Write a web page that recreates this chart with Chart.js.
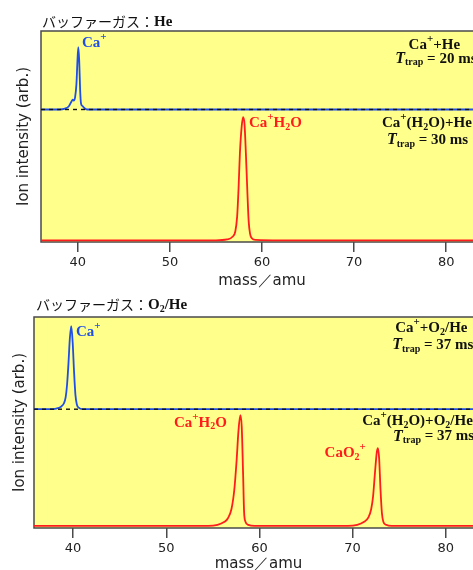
<!DOCTYPE html>
<html>
<head>
<meta charset="utf-8">
<script src="https://cdn.jsdelivr.net/npm/chart.js@4.4.1/dist/chart.umd.min.js"></script>
<style>
  html, body { margin: 0; padding: 0; background: #fff; overflow: hidden; width: 473px; height: 570px; }
  #wrap { position: relative; width: 473px; height: 570px; overflow: hidden; }
  canvas { position: absolute; left: 0; }
  #c1 { top: 0; }
  #c2 { top: 290px; }
</style>
</head>
<body>
<div id="wrap">
  <canvas id="c1" width="490" height="290"></canvas>
  <canvas id="c2" width="490" height="283"></canvas>
</div>
<script>
// x axis ticks (mass / amu)
const massTicks = [40, 50, 60, 70, 80];

// buffer gas: He  -- Ca+ trace
const heCaMass = [36, 38.0, 38.6, 39.0, 39.3, 39.45, 39.55, 39.7, 39.85, 39.95, 40.05, 40.15, 40.25, 40.35, 40.5, 40.7, 41.0, 84];
const heCaInt  = [62.8, 62.8, 63.2, 64.2, 66.5, 67.5, 67.0, 68.5, 75, 85, 92.4, 86, 72, 65.5, 64.5, 63.5, 62.8, 62.8];
// buffer gas: He  -- Ca+(H2O) trace
const heWaterMass = [36, 55, 56.2, 56.8, 57.1, 57.3, 57.45, 57.6, 57.8, 57.95, 58.1, 58.25, 58.4, 58.55, 58.7, 58.9, 59.3, 62, 84];
const heWaterInt  = [0.8, 0.8, 1.2, 2.5, 5, 12, 25, 42, 55, 59.2, 56, 42, 25, 10, 4, 1.8, 1.0, 0.8, 0.8];
const heZero = 62.8;

// buffer gas: O2/He  -- Ca+ trace
const o2CaMass = [35.8, 37.5, 38.2, 38.7, 39.0, 39.2, 39.35, 39.5, 39.65, 39.8, 39.95, 40.1, 40.25, 40.4, 40.6, 41.0, 84];
const o2CaInt  = [56.3, 56.3, 56.6, 57.5, 59, 62, 68, 78, 90, 95.7, 88, 74, 63, 58.5, 57, 56.3, 56.3];
// buffer gas: O2/He  -- Ca+(H2O) trace (Ca+H2O and CaO2+ peaks)
const o2WaterMass = [35.8, 54.5, 55.5, 56.2, 56.6, 57.0, 57.3, 57.55, 57.75, 57.95, 58.1, 58.25, 58.35, 58.5, 58.8, 59.5,
                     69.5, 70.5, 71.2, 71.7, 72.0, 72.2, 72.4, 72.6, 72.72, 72.85, 73.0, 73.15, 73.3, 73.6, 74.2, 84];
const o2WaterInt  = [1, 1, 1.5, 2.8, 4.5, 9, 18, 32, 46, 53.5, 48, 25, 8, 3, 1.5, 1,
                     1, 1.5, 2.8, 5, 9, 15, 26, 36, 37.9, 33, 18, 7, 3, 1.5, 1, 1];
const o2Zero = 56.3;

const BLUE = '#1f4fe6';
const RED = '#ff1c1c';
const AXIS = '#4a4a4a';

function pts(xs, ys) {
  return xs.map((x, i) => ({ x: x, y: ys[i] }));
}

// text with superscripts / subscripts
function drawRich(ctx, x, y, parts) {
  let cx = x;
  for (const [t, k] of parts) {
    let dy = 0;
    if (k === 'sup') { ctx.font = 'bold 11px "Liberation Serif"'; dy = -6; }
    else if (k === 'sub') { ctx.font = 'bold 10px "Liberation Serif"'; dy = 4; }
    else if (k === 'it') { ctx.font = 'italic bold 16px "Liberation Serif"'; }
    else if (k === 'jp') { ctx.font = '14px "Noto Sans CJK JP"'; }
    else { ctx.font = 'bold 15px "Liberation Serif"'; }
    ctx.fillText(t, cx, y + dy);
    cx += ctx.measureText(t).width;
  }
}

const decor = {
  id: 'decor',
  beforeDraw(chart) {
    const { ctx, chartArea: a } = chart;
    ctx.save();
    ctx.fillStyle = '#ffff8c';
    ctx.fillRect(a.left, a.top, a.right - a.left, a.bottom - a.top);
    ctx.restore();
  },
  beforeDatasetsDraw(chart) {
    const { ctx, chartArea: a } = chart;
    ctx.save();
    ctx.strokeStyle = AXIS;
    ctx.lineWidth = 1.5;
    ctx.strokeRect(a.left, a.top, a.right - a.left, a.bottom - a.top);
    ctx.restore();
  },
  afterDraw(chart, args, opts) {
    const { ctx, scales } = chart;
    ctx.save();
    ctx.textBaseline = 'middle';
    ctx.textAlign = 'left';
    ctx.fillStyle = '#111';
    drawRich(ctx, opts.title.x, opts.title.y, opts.title.parts);
    for (const l of opts.labels) {
      ctx.fillStyle = l.color;
      drawRich(ctx, scales.x.getPixelForValue(l.x), scales.y.getPixelForValue(l.y), l.parts);
    }
    ctx.restore();
  }
};

function makeChart(id, cfg) {
  return new Chart(document.getElementById(id), {
    type: 'line',
    data: {
      datasets: [
        { data: pts([cfg.xmin, 84], [cfg.zero, cfg.zero]), borderColor: '#111', borderWidth: 1.4, borderDash: [4, 4], pointRadius: 0 },
        { data: pts(cfg.blueX, cfg.blueY), borderColor: BLUE, borderWidth: 1.8, pointRadius: 0, cubicInterpolationMode: 'monotone' },
        { data: pts(cfg.redX, cfg.redY), borderColor: RED, borderWidth: 1.8, pointRadius: 0, cubicInterpolationMode: 'monotone' }
      ]
    },
    options: {
      responsive: false,
      animation: false,
      layout: { padding: { top: cfg.top, right: 7, left: 0, bottom: 0 } },
      plugins: {
        legend: { display: false },
        tooltip: { enabled: false },
        decor: { title: cfg.title, labels: cfg.labels }
      },
      scales: {
        x: {
          type: 'linear',
          min: cfg.xmin,
          max: 84,
          afterFit: s => { s.height = cfg.xh; },
          afterBuildTicks: s => { s.ticks = massTicks.map(v => ({ value: v })); },
          border: { display: false },
          grid: { drawOnChartArea: false, drawTicks: true, tickLength: 10, color: AXIS, tickColor: AXIS, lineWidth: 1.5, tickWidth: 1.5 },
          ticks: { color: '#222', padding: 3, font: { family: 'DejaVu Sans', size: 13 } },
          title: { display: true, text: 'mass／amu', color: '#222', padding: { top: 0, bottom: 0 }, font: { family: 'DejaVu Sans', size: 15 } }
        },
        y: {
          min: 0,
          max: 100,
          afterFit: s => { s.width = cfg.yw; },
          border: { display: false },
          grid: { display: false },
          ticks: { display: false },
          title: { display: true, text: 'Ion intensity (arb.)', color: '#222', padding: { top: cfg.ypad, bottom: 0 }, font: { family: 'DejaVu Sans', size: 15 } }
        }
      }
    },
    plugins: [decor]
  });
}

makeChart('c1', {
  xmin: 36, zero: heZero, top: 31, xh: 48, yw: 41, ypad: 15,
  blueX: heCaMass, blueY: heCaInt, redX: heWaterMass, redY: heWaterInt,
  title: { x: 42, y: 22, parts: [['バッファーガス：', 'jp'], ['He', 'n']] },
  labels: [
    { x: 40.45, y: 94.3, color: BLUE, parts: [['Ca', 'n'], ['+', 'sup']] },
    { x: 58.58, y: 56.4, color: RED, parts: [['Ca', 'n'], ['+', 'sup'], ['H', 'n'], ['2', 'sub'], ['O', 'n']] },
    { x: 75.92, y: 93.4, color: '#111', parts: [['Ca', 'n'], ['+', 'sup'], ['+He', 'n']] },
    { x: 74.47, y: 86.8, color: '#111', parts: [['T', 'it'], ['trap', 'sub'], [' = 20 ms', 'n']] },
    { x: 73.03, y: 56.4, color: '#111', parts: [['Ca', 'n'], ['+', 'sup'], ['(H', 'n'], ['2', 'sub'], ['O)+He', 'n']] },
    { x: 73.57, y: 48.3, color: '#111', parts: [['T', 'it'], ['trap', 'sub'], [' = 30 ms', 'n']] }
  ]
});

makeChart('c2', {
  xmin: 35.8, zero: o2Zero, top: 27, xh: 45, yw: 34, ypad: 11,
  blueX: o2CaMass, blueY: o2CaInt, redX: o2WaterMass, redY: o2WaterInt,
  title: { x: 36, y: 15, parts: [['バッファーガス：', 'jp'], ['O', 'n'], ['2', 'sub'], ['/He', 'n']] },
  labels: [
    { x: 40.31, y: 92.9, color: BLUE, parts: [['Ca', 'n'], ['+', 'sup']] },
    { x: 50.82, y: 49.9, color: RED, parts: [['Ca', 'n'], ['+', 'sup'], ['H', 'n'], ['2', 'sub'], ['O', 'n']] },
    { x: 66.99, y: 35.4, color: RED, parts: [['CaO', 'n'], ['2', 'sub'], ['+', 'sup']] },
    { x: 74.57, y: 94.8, color: '#111', parts: [['Ca', 'n'], ['+', 'sup'], ['+O', 'n'], ['2', 'sub'], ['/He', 'n']] },
    { x: 74.25, y: 86.7, color: '#111', parts: [['T', 'it'], ['trap', 'sub'], [' = 37 ms', 'n']] },
    { x: 71.03, y: 50.6, color: '#111', parts: [['Ca', 'n'], ['+', 'sup'], ['(H', 'n'], ['2', 'sub'], ['O)+O', 'n'], ['2', 'sub'], ['/He', 'n']] },
    { x: 74.33, y: 43.4, color: '#111', parts: [['T', 'it'], ['trap', 'sub'], [' = 37 ms', 'n']] }
  ]
});
</script>
</body>
</html>
